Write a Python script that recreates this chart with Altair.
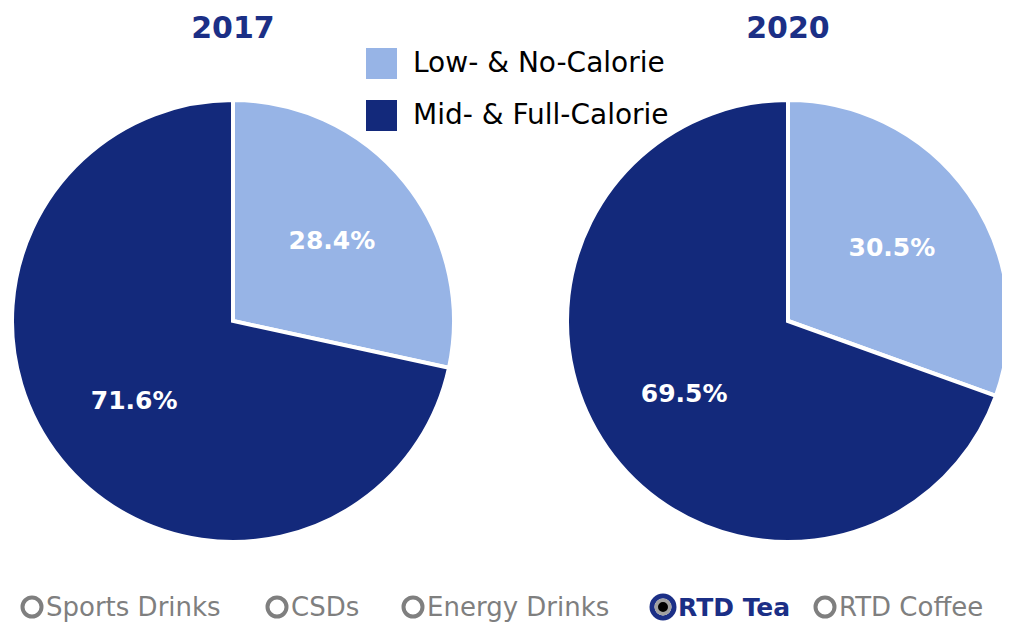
import math
import altair as alt
import pandas as pd

# ---- data ----
years = ["2017", "2020"]
segments = ["Low- & No-Calorie", "Mid- & Full-Calorie"]
low_share = [28.4, 30.5]
mid_share = [71.6, 69.5]
options = ["Sports Drinks", "CSDs", "Energy Drinks", "RTD Tea", "RTD Coffee"]
selected_option = "RTD Tea"

rows = []
for i, yr in enumerate(years):
    rows.append({"year": yr, "segment": segments[0], "order": 0, "share": low_share[i]})
    rows.append({"year": yr, "segment": segments[1], "order": 1, "share": mid_share[i]})
pie_df = pd.DataFrame(rows)
title_df = pd.DataFrame({"year": years})
opt_df = pd.DataFrame({
    "option": options,
    "idx": list(range(len(options))),
    "selected": [o == selected_option for o in options],
})

# ---- style ----
NAVY = "#13297b"
LIGHT = "#97b4e6"
TITLE = "#1b2f86"
GRAY = "#7f7f7f"
FONT = "DejaVu Sans"

x_year = alt.X("year:N", scale=alt.Scale(type="point", domain=years, range=[225, 780], padding=0), axis=None)
theta_scale = alt.Scale(domain=[0, 100], range=[0, 2 * math.pi])

base = (
    alt.Chart(pie_df)
    .transform_window(end="sum(share)", groupby=["year"], sort=[alt.SortField("order")], frame=[None, 0])
    .transform_calculate(
        start="datum.end - datum.share",
        mid="datum.end - datum.share / 2",
        label="format(datum.share, '.1f') + '%'",
    )
)

arcs = base.mark_arc(radius=221, stroke="white", strokeWidth=4).encode(
    x=x_year,
    y=alt.value(313),
    theta=alt.Theta("start:Q", scale=theta_scale),
    theta2="end:Q",
    color=alt.Color(
        "segment:N",
        scale=alt.Scale(domain=segments, range=[LIGHT, NAVY]),
        legend=alt.Legend(
            title=None,
            orient="none",
            legendX=358,
            legendY=40,
            symbolType="square",
            symbolSize=961,
            symbolStrokeWidth=0,
            labelFont=FONT,
            labelFontSize=28,
            labelColor="black",
            labelOffset=16,
            rowPadding=21,
            labelLimit=400,
        ),
    ),
)

labels = base.mark_text(radius=127, font=FONT, fontWeight="bold", fontSize=25, color="white").encode(
    x=x_year,
    y=alt.value(313),
    theta=alt.Theta("mid:Q", scale=theta_scale),
    text="label:N",
)

titles = alt.Chart(title_df).mark_text(font=FONT, fontWeight="bold", fontSize=30, color=TITLE).encode(
    x=x_year,
    y=alt.value(21),
    text="year:N",
)

x_opt = alt.X(
    "idx:Q",
    scale=alt.Scale(domain=[0, 1, 2, 3, 4], range=[24, 269, 405, 655, 817], nice=False, zero=False),
    axis=None,
)
opt_base = alt.Chart(opt_df)
ring_off = opt_base.transform_filter("!datum.selected").mark_point(
    shape="circle", size=361, filled=False, strokeWidth=4, color=GRAY, opacity=1
).encode(x=x_opt, y=alt.value(599))
ring_on = opt_base.transform_filter("datum.selected").mark_point(
    shape="circle", size=484, filled=True, fill="white", stroke=TITLE, strokeWidth=5, opacity=1
).encode(x=x_opt, y=alt.value(599))
dot_on = opt_base.transform_filter("datum.selected").mark_point(
    shape="circle", size=182, filled=True, fill="black", stroke="#a0a0a0", strokeWidth=3.5, opacity=1
).encode(x=x_opt, y=alt.value(599))
text_off = opt_base.transform_filter("!datum.selected").mark_text(
    align="left", baseline="alphabetic", dx=14, font=FONT, fontSize=26, color=GRAY
).encode(x=x_opt, y=alt.value(608), text="option:N")
text_on = opt_base.transform_filter("datum.selected").mark_text(
    align="left", baseline="alphabetic", dx=15, font=FONT, fontSize=25, fontWeight="bold", color=TITLE
).encode(x=x_opt, y=alt.value(608), text="option:N")

chart = (
    alt.layer(arcs, labels, titles, ring_off, ring_on, dot_on, text_off, text_on)
    .resolve_scale(x="independent")
    .properties(width=994, height=614, autosize=alt.AutoSizeParams(type="none"), padding=0,
                background="white")
    .configure_view(strokeWidth=0, stroke="transparent")
)

chart.save("out.html", embed_options={"renderer": "svg", "actions": False})
